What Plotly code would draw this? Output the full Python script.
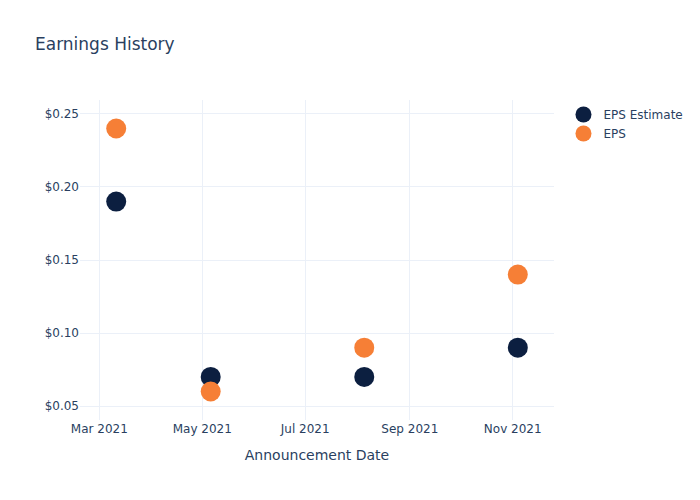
import plotly.graph_objects as go

dates = ["2021-03-11", "2021-05-06", "2021-08-05", "2021-11-04"]
eps_estimate = [0.19, 0.07, 0.07, 0.09]
eps_actual = [0.24, 0.06, 0.09, 0.14]

fig = go.Figure()
fig.add_trace(go.Scatter(x=dates, y=eps_estimate, mode="markers", name="EPS Estimate",
                         marker=dict(color="#0c1f40", size=20)))
fig.add_trace(go.Scatter(x=dates, y=eps_actual, mode="markers", name="EPS",
                         marker=dict(color="#f67f36", size=20)))
fig.update_layout(
    template="plotly_white",
    title="Earnings History",
    font=dict(family="DejaVu Sans"),
    width=700, height=500,
    xaxis=dict(title="Announcement Date"),
    yaxis=dict(tickprefix="$", tickformat=".2f"),
)
fig.write_html("out.html")
